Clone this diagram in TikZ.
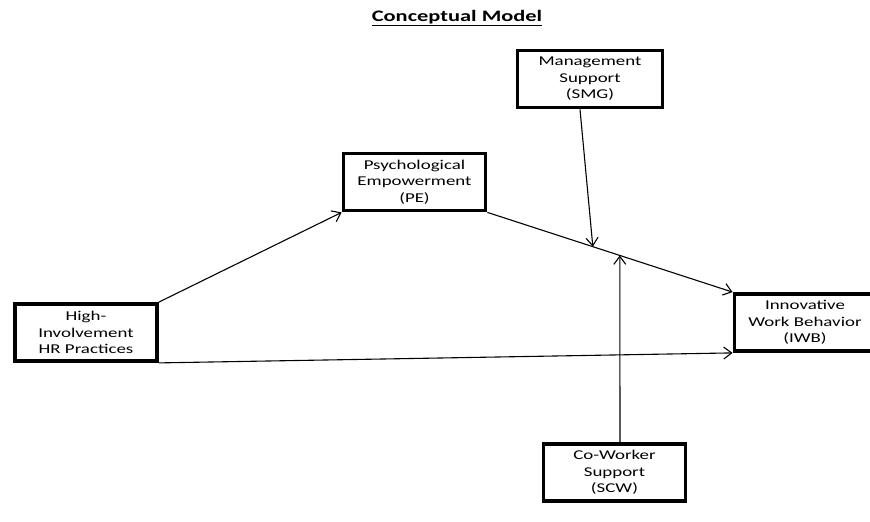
\documentclass[tikz,border=0pt]{standalone}
\usepackage{fontspec}
\setmainfont{Carlito}[FakeStretch=1.4]
\usetikzlibrary{arrows.meta,calc}

\begin{document}
\begin{tikzpicture}[
  x=1pt, y=-1pt,
  var/.style={draw, line width=3.8pt, align=center, inner sep=0pt,
    minimum width=142pt, minimum height=57pt,
    font=\fontsize{13.5}{16.5}\selectfont},
  path/.style={line width=1.1pt, -{Straight Barb[length=8pt,width=12pt]}},
]
\useasboundingbox (0,0) rectangle (870,522);

\node [font=\fontsize{16}{18}\selectfont\bfseries] (title) at (457,18) {\underline{Conceptual Model}};

\node [var, minimum width=145pt] (smg) at (590,79) {Management\\Support\\(SMG)};
\node [var] (pe) at (414.5,182) {Psychological\\Empowerment\\(PE)};
\node [var] (hr) at (86,332.5) {High-\\Involvement\\HR Practices};
\node [var, minimum width=141pt] (iwb) at (805,322.5) {Innovative\\Work Behavior\\(IWB)};
\node [var] (scw) at (614.5,472.5) {Co-Worker\\Support\\(SCW)};

\draw [path] (hr.north east) -- (pe.south west);
\draw [path] (pe.south east) -- (iwb.north west);
\draw [path] (hr.south east) -- (iwb.south west);

% moderators
\coordinate (m1) at ($(pe.south east)!0.43!(iwb.north west)$);
\coordinate (m2) at ($(pe.south east)!0.54!(iwb.north west)$);
\draw [path] ([xshift=-10pt]smg.south) -- (m1);
\draw [path] ([xshift=5.5pt]scw.north) -- (m2);

\end{tikzpicture}
\end{document}
